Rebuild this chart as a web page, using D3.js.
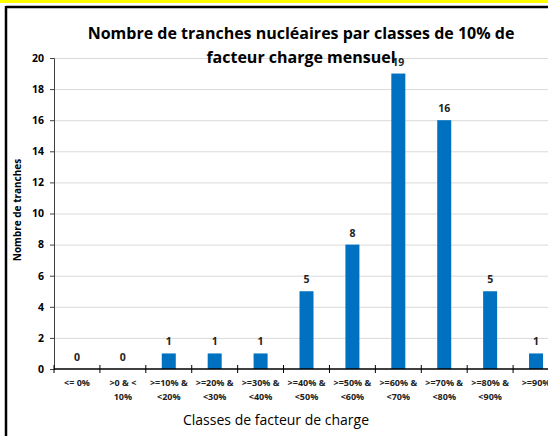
<!DOCTYPE html>
<html><head><meta charset="utf-8">
<script src="https://cdn.jsdelivr.net/npm/d3@7"></script>
<style>html,body{margin:0;padding:0;background:#fff;overflow:hidden}</style>
</head><body>
<svg id="c" width="548" height="436"></svg>
<script>
const categories = [
  ["<= 0%", ""], [">0 & <", "10%"], [">=10% &", "<20%"], [">=20% &", "<30%"],
  [">=30% &", "<40%"], [">=40% &", "<50%"], [">=50% &", "<60%"], [">=60% &", "<70%"],
  [">=70% &", "<80%"], [">=80% &", "<90%"], [">=90%", ""]
];
const values = [0, 0, 1, 1, 1, 5, 8, 19, 16, 5, 1];
const yTicks = [0, 2, 4, 6, 8, 10, 12, 14, 16, 18, 20];
const titleLines = ["Nombre de tranches nucléaires par classes de 10% de", "facteur charge mensuel"];
const yTitle = "Nombre de tranches";
const xTitle = "Classes de facteur de charge";

const svg = d3.select("#c");
const font = "'Open Sans', sans-serif";
const pL = 54, pR = 559, pT = 58, pB = 369;

// frame
svg.append("rect").attr("x", 0).attr("y", 0).attr("width", 548).attr("height", 3).attr("fill", "#ffff00");
svg.append("line").attr("x1", 6).attr("x2", 548).attr("y1", 7).attr("y2", 7).attr("stroke", "#000").attr("stroke-width", 2.5);
svg.append("line").attr("x1", 6).attr("x2", 6).attr("y1", 6).attr("y2", 436).attr("stroke", "#000").attr("stroke-width", 2.5);

const x = d3.scaleBand().domain(d3.range(categories.length)).range([pL, pR]);
const y = d3.scaleLinear().domain([0, 20]).range([pB, pT]);

// gridlines
svg.append("g").selectAll("line").data(yTicks.filter(t => t > 0)).join("line")
  .attr("x1", pL).attr("x2", 548).attr("y1", d => y(d) + 0.5).attr("y2", d => y(d) + 0.5)
  .attr("stroke", "#d9d9d9").attr("stroke-width", 1);

// bars
const bw = 14;
svg.append("g").selectAll("rect").data(values).join("rect")
  .attr("x", (d, i) => x(i) + x.bandwidth() / 2 - bw / 2)
  .attr("y", d => y(d)).attr("width", bw).attr("height", d => y(0) - y(d))
  .attr("fill", "#0070c0");

// y axis
const yAxis = d3.axisLeft(y).tickValues(yTicks).tickSize(4).tickPadding(6);
const gy = svg.append("g").attr("transform", `translate(${pL},0)`).call(yAxis);
gy.select(".domain").attr("stroke", "#404040");
gy.selectAll(".tick line").attr("stroke", "#404040");
gy.selectAll("text").attr("font-family", font).attr("font-size", 10.5).attr("font-weight", "bold").attr("fill", "#000");

// x axis
const xb = d3.scaleLinear().domain([0, categories.length]).range([pL, pR]);
const gx = svg.append("g").attr("transform", `translate(0,${pB})`);
gx.append("line").attr("x1", pL).attr("x2", 548).attr("stroke", "#000").attr("stroke-width", 1.5);
gx.selectAll(".tk").data(d3.range(categories.length + 1)).join("line").attr("class", "tk")
  .attr("x1", d => xb(d)).attr("x2", d => xb(d)).attr("y1", -4).attr("y2", 4)
  .attr("stroke", "#000").attr("stroke-width", 1);
const xl = gx.selectAll(".lab").data(categories).join("text").attr("class", "lab")
  .attr("font-family", font).attr("font-size", 9).attr("font-weight", "bold").attr("fill", "#222")
  .attr("text-anchor", "middle");
xl.each(function(d, i) {
  const t = d3.select(this);
  d.forEach((ln, k) => {
    if (ln) t.append("tspan").attr("x", x(i) + x.bandwidth() / 2).attr("y", 17 + k * 14).text(ln);
  });
});

// data labels
svg.append("g").selectAll("text").data(values).join("text")
  .attr("x", (d, i) => x(i) + x.bandwidth() / 2).attr("y", d => y(d) - 8)
  .attr("text-anchor", "middle").attr("font-family", font).attr("font-size", 10.5)
  .attr("font-weight", "bold").attr("fill", "#222").text(d => d);

// titles
svg.append("g").selectAll("text").data(titleLines).join("text")
  .attr("x", 301).attr("y", (d, i) => 39 + i * 24).attr("text-anchor", "middle")
  .attr("font-family", font).attr("font-size", 16).attr("font-weight", "bold").attr("fill", "#000")
  .text(d => d);

svg.append("text").attr("transform", "translate(21,210) rotate(-90)").attr("text-anchor", "middle")
  .attr("font-family", font).attr("font-size", 10).attr("font-weight", "bold").attr("fill", "#000").text(yTitle);

svg.append("text").attr("x", 276).attr("y", 425).attr("text-anchor", "middle")
  .attr("font-family", font).attr("font-size", 14).attr("fill", "#000").text(xTitle);
</script>
</body></html>
